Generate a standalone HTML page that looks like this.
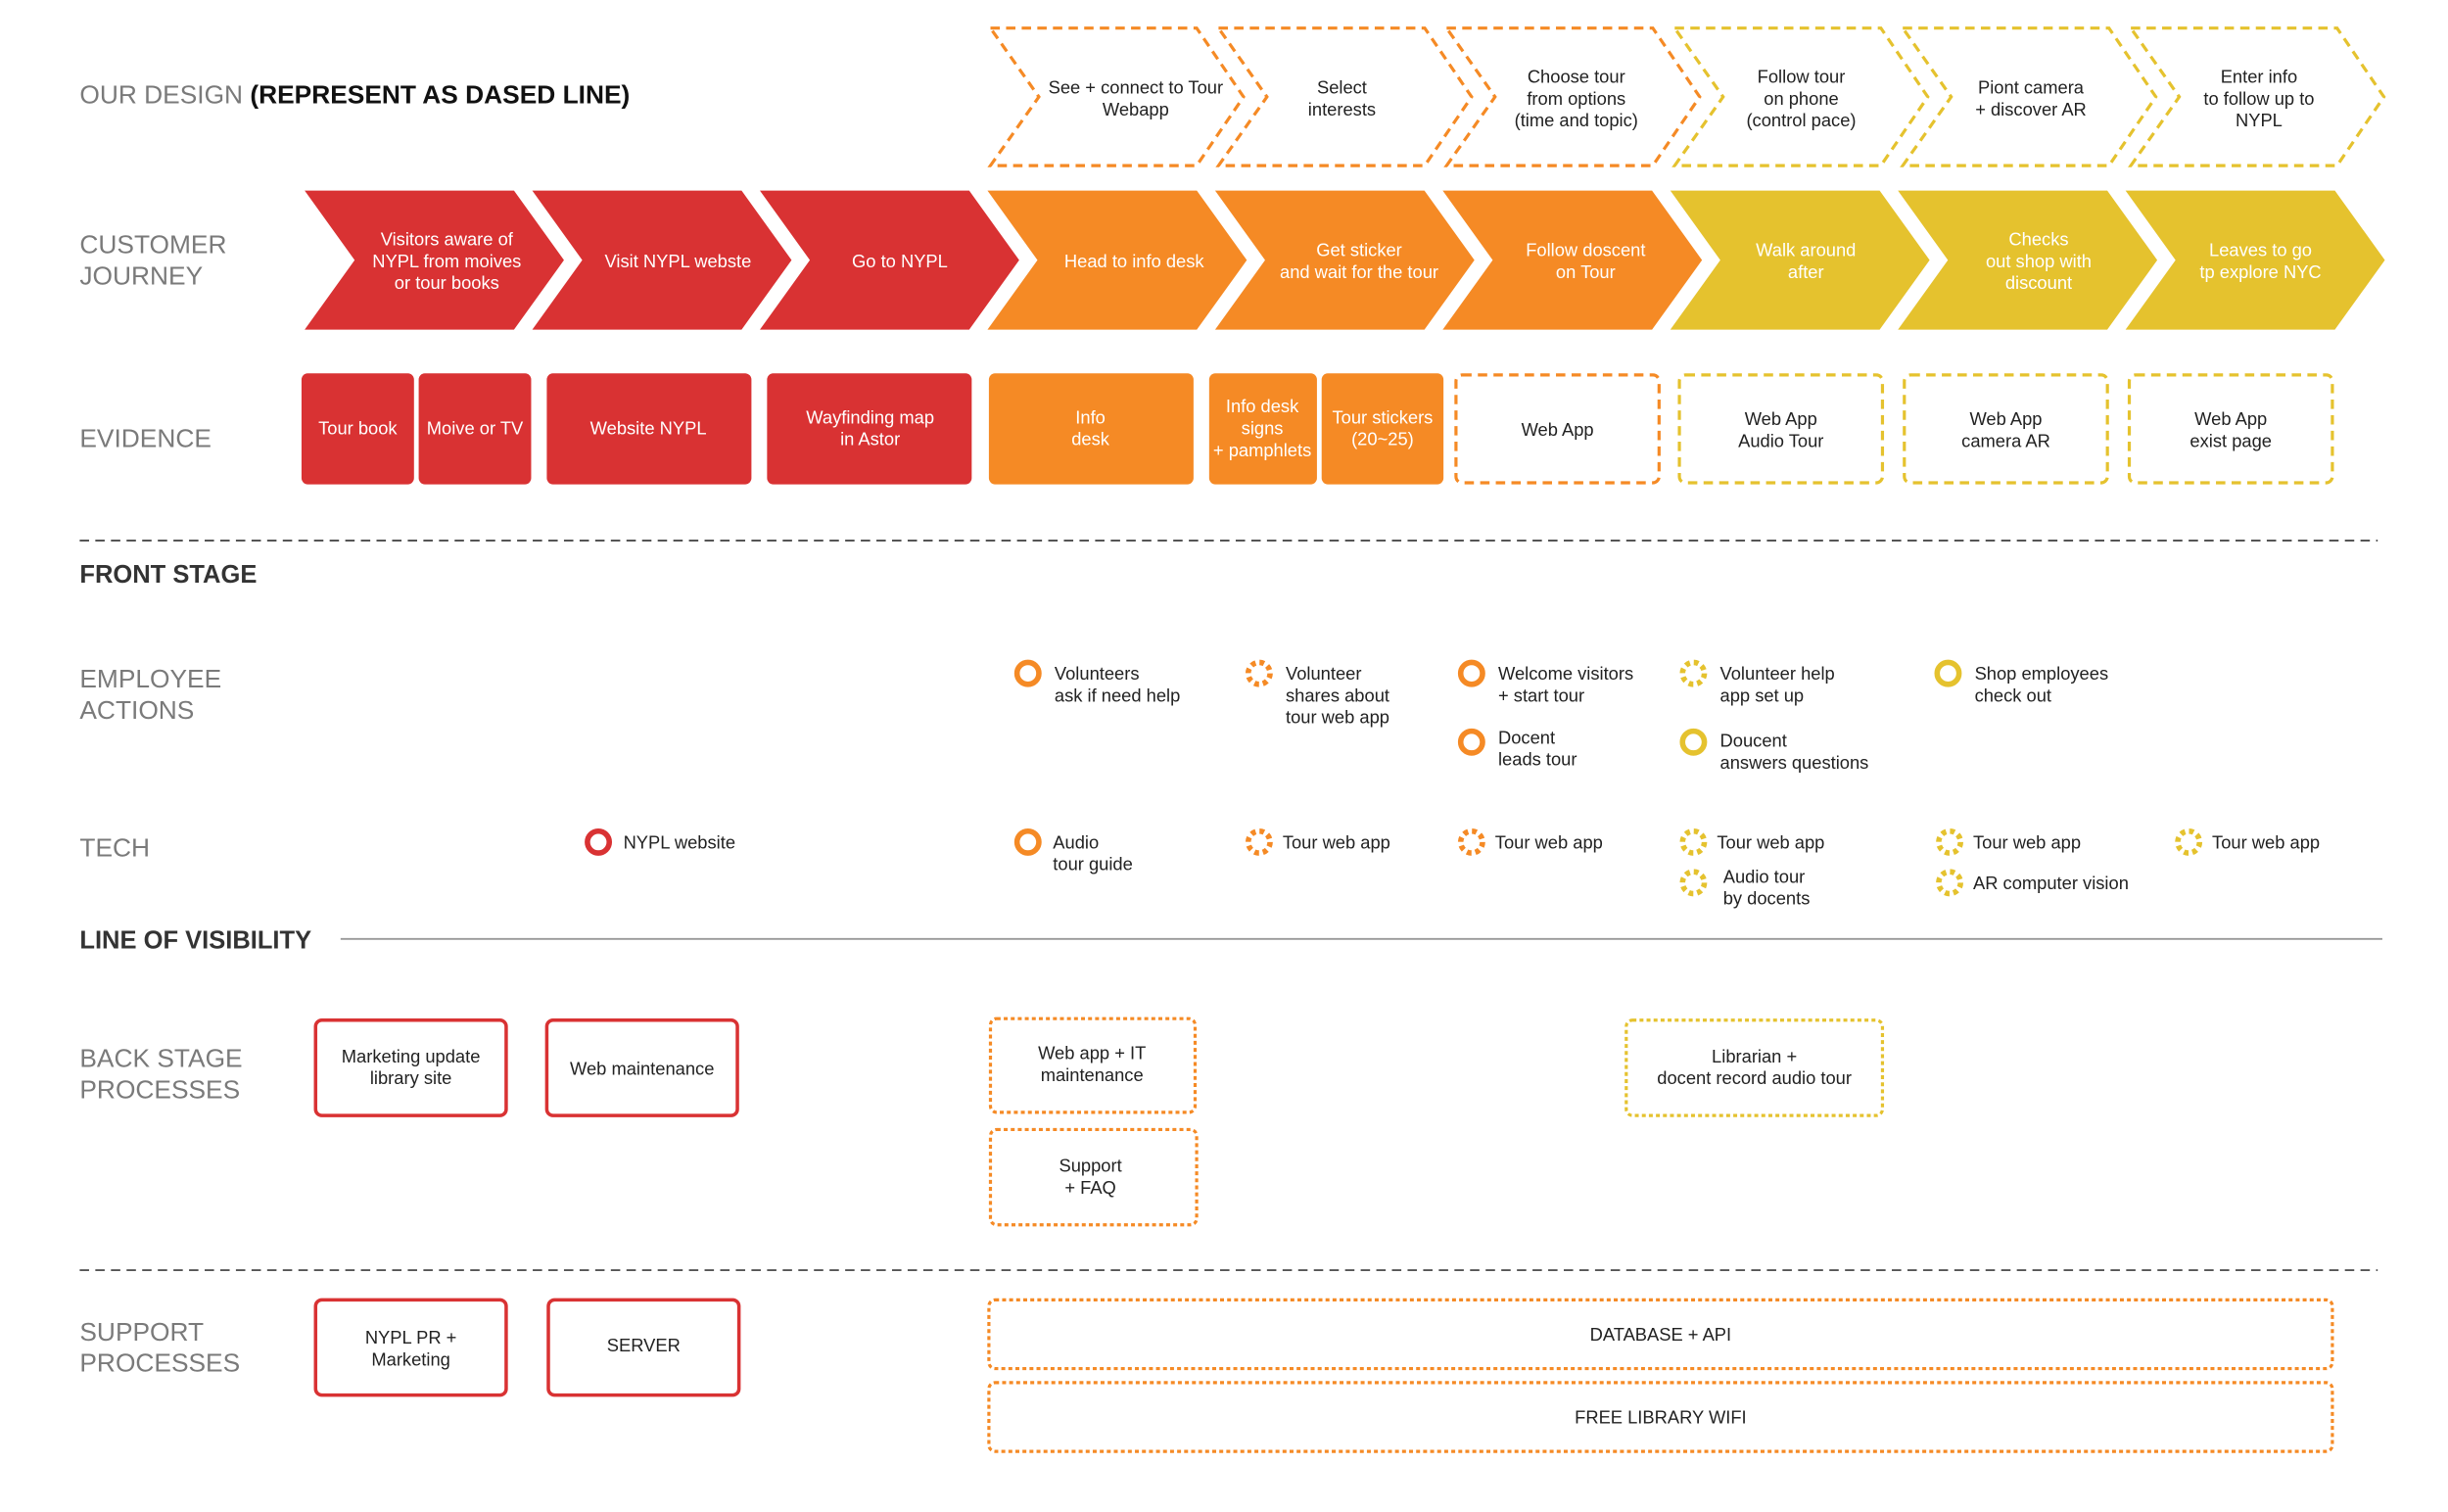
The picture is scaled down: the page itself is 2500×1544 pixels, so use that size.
<!DOCTYPE html>
<html><head><meta charset="utf-8"><style>
html,body{margin:0;padding:0;background:#fff;}
svg{display:block;}
text{font-family:"Liberation Sans Narrow","Liberation Sans",sans-serif;}
.lbl{fill:#7a7a7a;font-size:16.5px;}
.w{fill:#fff;font-size:11.5px;text-anchor:middle;}
.d{fill:#222;font-size:11.5px;text-anchor:middle;}
.s{fill:#222;font-size:11.5px;}
</style></head><body>
<svg width="2500" height="1544" viewBox="0 0 1567 967.8" xmlns="http://www.w3.org/2000/svg">
<rect width="1567" height="967.8" fill="#fff"/>
<text x="51" y="66" class="lbl">OUR DESIGN <tspan fill="#111" font-weight="bold">(REPRESENT AS DASED LINE)</tspan></text>
<text x="51" y="162" class="lbl">CUSTOMER</text><text x="51" y="182" class="lbl">JOURNEY</text>
<text x="51" y="286" class="lbl">EVIDENCE</text>
<text x="51" y="373" style="fill:#333;font-size:16px;font-weight:bold">FRONT STAGE</text>
<text x="51" y="440" class="lbl">EMPLOYEE</text><text x="51" y="460" class="lbl">ACTIONS</text>
<text x="51" y="548" class="lbl">TECH</text>
<text x="51" y="607" style="fill:#333;font-size:16px;font-weight:bold">LINE OF VISIBILITY</text>
<text x="51" y="683" class="lbl">BACK STAGE</text><text x="51" y="703" class="lbl">PROCESSES</text>
<text x="51" y="858" class="lbl">SUPPORT</text><text x="51" y="878" class="lbl">PROCESSES</text>

<line x1="51" y1="346" x2="1522" y2="346" stroke="#555" stroke-width="1.2" stroke-dasharray="6 4"/>
<line x1="218" y1="601" x2="1525" y2="601" stroke="#999" stroke-width="1.2"/>
<line x1="51" y1="813" x2="1522" y2="813" stroke="#555" stroke-width="1.2" stroke-dasharray="6 4"/>

<g fill="none" stroke-width="2" stroke-dasharray="6 4">
<path d="M634,18 L766,18 L796,62 L766,106 L634,106 L665,62 Z" stroke="#F58A25"/>
<path d="M780,18 L912,18 L942,62 L912,106 L780,106 L811,62 Z" stroke="#F58A25"/>
<path d="M926,18 L1058,18 L1088,62 L1058,106 L926,106 L957,62 Z" stroke="#F58A25"/>
<path d="M1072,18 L1204,18 L1234,62 L1204,106 L1072,106 L1103,62 Z" stroke="#E5C22E"/>
<path d="M1218,18 L1350,18 L1380,62 L1350,106 L1218,106 L1249,62 Z" stroke="#E5C22E"/>
<path d="M1364,18 L1496,18 L1526,62 L1496,106 L1364,106 L1395,62 Z" stroke="#E5C22E"/>
</g>
<text class="d" x="727" y="60">See + connect to Tour</text><text class="d" x="727" y="74">Webapp</text>
<text class="d" x="859" y="60">Select</text><text class="d" x="859" y="74">interests</text>
<text class="d" x="1009" y="53">Choose tour</text><text class="d" x="1009" y="67">from options</text><text class="d" x="1009" y="81">(time and topic)</text>
<text class="d" x="1153" y="53">Follow tour</text><text class="d" x="1153" y="67">on phone</text><text class="d" x="1153" y="81">(control pace)</text>
<text class="d" x="1300" y="60">Piont camera</text><text class="d" x="1300" y="74">+ discover AR</text>
<text class="d" x="1446" y="53">Enter info</text><text class="d" x="1446" y="67">to follow up to</text><text class="d" x="1446" y="81">NYPL</text>

<path d="M195,122 L329,122 L361,166.5 L329,211 L195,211 L227,166.5 Z" fill="#D93233"/>
<path d="M340.7,122 L474.7,122 L506.7,166.5 L474.7,211 L340.7,211 L372.7,166.5 Z" fill="#D93233"/>
<path d="M486.4,122 L620.4,122 L652.4,166.5 L620.4,211 L486.4,211 L518.4,166.5 Z" fill="#D93233"/>
<path d="M632.1,122 L766.1,122 L798.1,166.5 L766.1,211 L632.1,211 L664.1,166.5 Z" fill="#F58A25"/>
<path d="M777.8,122 L911.8,122 L943.8,166.5 L911.8,211 L777.8,211 L809.8,166.5 Z" fill="#F58A25"/>
<path d="M923.5,122 L1057.5,122 L1089.5,166.5 L1057.5,211 L923.5,211 L955.5,166.5 Z" fill="#F58A25"/>
<path d="M1069.2,122 L1203.2,122 L1235.2,166.5 L1203.2,211 L1069.2,211 L1101.2,166.5 Z" fill="#E5C22E"/>
<path d="M1214.9,122 L1348.9,122 L1380.9,166.5 L1348.9,211 L1214.9,211 L1246.9,166.5 Z" fill="#E5C22E"/>
<path d="M1360.6,122 L1494.6,122 L1526.6,166.5 L1494.6,211 L1360.6,211 L1392.6,166.5 Z" fill="#E5C22E"/>
<text class="w" x="286" y="157">Visitors aware of</text><text class="w" x="286" y="171">NYPL from moives</text><text class="w" x="286" y="185">or tour books</text>
<text class="w" x="434" y="171">Visit NYPL webste</text>
<text class="w" x="576" y="171">Go to NYPL</text>
<text class="w" x="726" y="171">Head to info desk</text>
<text class="w" x="870" y="164">Get sticker</text><text class="w" x="870" y="178">and wait for the tour</text>
<text class="w" x="1015" y="164">Follow doscent</text><text class="w" x="1015" y="178">on Tour</text>
<text class="w" x="1156" y="164">Walk around</text><text class="w" x="1156" y="178">after</text>
<text class="w" x="1305" y="157">Checks</text><text class="w" x="1305" y="171">out shop with</text><text class="w" x="1305" y="185">discount</text>
<text class="w" x="1447" y="164">Leaves to go</text><text class="w" x="1447" y="178">tp explore NYC</text>

<rect x="193" y="239" width="72" height="71" rx="4" fill="#D93233"/>
<rect x="268" y="239" width="72" height="71" rx="4" fill="#D93233"/>
<rect x="350" y="239" width="131" height="71" rx="4" fill="#D93233"/>
<rect x="491" y="239" width="131" height="71" rx="4" fill="#D93233"/>
<rect x="633" y="239" width="131" height="71" rx="4" fill="#F58A25"/>
<rect x="774" y="239" width="69" height="71" rx="4" fill="#F58A25"/>
<rect x="846" y="239" width="78" height="71" rx="4" fill="#F58A25"/>
<g fill="none" stroke-width="2" stroke-dasharray="6 4">
<rect x="932" y="240" width="130" height="69" rx="4" stroke="#F58A25"/>
<rect x="1075" y="240" width="130" height="69" rx="4" stroke="#E5C22E"/>
<rect x="1219" y="240" width="130" height="69" rx="4" stroke="#E5C22E"/>
<rect x="1363" y="240" width="130" height="69" rx="4" stroke="#E5C22E"/>
</g>
<text class="w" x="229" y="278">Tour book</text>
<text class="w" x="304" y="278">Moive or TV</text>
<text class="w" x="415" y="278">Website NYPL</text>
<text class="w" x="557" y="271">Wayfinding map</text><text class="w" x="557" y="285">in Astor</text>
<text class="w" x="698" y="271">Info</text><text class="w" x="698" y="285">desk</text>
<text class="w" x="808" y="264">Info desk</text><text class="w" x="808" y="278">signs</text><text class="w" x="808" y="292">+ pamphlets</text>
<text class="w" x="885" y="271">Tour stickers</text><text class="w" x="885" y="285">(20~25)</text>
<text class="d" x="997" y="279">Web App</text>
<text class="d" x="1140" y="272">Web App</text><text class="d" x="1140" y="286">Audio Tour</text>
<text class="d" x="1284" y="272">Web App</text><text class="d" x="1284" y="286">camera AR</text>
<text class="d" x="1428" y="272">Web App</text><text class="d" x="1428" y="286">exist page</text>

<g fill="none" stroke-width="3.5">
<circle cx="658" cy="431" r="7" stroke="#F58A25"/>
<circle cx="806" cy="431" r="7" stroke="#F58A25" stroke-dasharray="3 2.5"/>
<circle cx="942" cy="431" r="7" stroke="#F58A25"/>
<circle cx="942" cy="475" r="7" stroke="#F58A25"/>
<circle cx="1084" cy="431" r="7" stroke="#E5C22E" stroke-dasharray="3 2.5"/>
<circle cx="1084" cy="475" r="7" stroke="#E5C22E"/>
<circle cx="1247" cy="431" r="7" stroke="#E5C22E"/>
<circle cx="383" cy="539" r="7" stroke="#D93233"/>
<circle cx="658" cy="539" r="7" stroke="#F58A25"/>
<circle cx="806" cy="539" r="7" stroke="#F58A25" stroke-dasharray="3 2.5"/>
<circle cx="942" cy="539" r="7" stroke="#F58A25" stroke-dasharray="3 2.5"/>
<circle cx="1084" cy="539" r="7" stroke="#E5C22E" stroke-dasharray="3 2.5"/>
<circle cx="1084" cy="565" r="7" stroke="#E5C22E" stroke-dasharray="3 2.5"/>
<circle cx="1248" cy="539" r="7" stroke="#E5C22E" stroke-dasharray="3 2.5"/>
<circle cx="1248" cy="565" r="7" stroke="#E5C22E" stroke-dasharray="3 2.5"/>
<circle cx="1401" cy="539" r="7" stroke="#E5C22E" stroke-dasharray="3 2.5"/>
</g>
<text class="s" x="675" y="435">Volunteers</text><text class="s" x="675" y="449">ask if need help</text>
<text class="s" x="823" y="435">Volunteer</text><text class="s" x="823" y="449">shares about</text><text class="s" x="823" y="463">tour web app</text>
<text class="s" x="959" y="435">Welcome visitors</text><text class="s" x="959" y="449">+ start tour</text>
<text class="s" x="959" y="476">Docent</text><text class="s" x="959" y="490">leads tour</text>
<text class="s" x="1101" y="435">Volunteer help</text><text class="s" x="1101" y="449">app set up</text>
<text class="s" x="1101" y="478">Doucent</text><text class="s" x="1101" y="492">answers questions</text>
<text class="s" x="1264" y="435">Shop employees</text><text class="s" x="1264" y="449">check out</text>
<text class="s" x="399" y="543">NYPL website</text>
<text class="s" x="674" y="543">Audio</text><text class="s" x="674" y="557">tour guide</text>
<text class="s" x="821" y="543">Tour web app</text>
<text class="s" x="957" y="543">Tour web app</text>
<text class="s" x="1099" y="543">Tour web app</text>
<text class="s" x="1103" y="565">Audio tour</text><text class="s" x="1103" y="579">by docents</text>
<text class="s" x="1263" y="543">Tour web app</text>
<text class="s" x="1263" y="569">AR computer vision</text>
<text class="s" x="1416" y="543">Tour web app</text>

<g fill="none" stroke-width="2.2">
<rect x="202" y="653" width="122" height="61" rx="4" stroke="#D93233"/>
<rect x="350" y="653" width="122" height="61" rx="4" stroke="#D93233"/>
<rect x="202" y="832" width="122" height="61" rx="4" stroke="#D93233"/>
<rect x="351" y="832" width="122" height="61" rx="4" stroke="#D93233"/>
</g>
<g fill="none" stroke-width="2" stroke-dasharray="2.5 2">
<rect x="634" y="652" width="131" height="60" rx="4" stroke="#F58A25"/>
<rect x="634" y="723" width="132" height="61" rx="4" stroke="#F58A25"/>
<rect x="1041" y="653" width="164" height="61" rx="4" stroke="#E5C22E"/>
<rect x="633" y="832" width="860" height="44" rx="4" stroke="#F58A25"/>
<rect x="633" y="885" width="860" height="44" rx="4" stroke="#F58A25"/>
</g>
<text class="d" x="263" y="680">Marketing update</text><text class="d" x="263" y="694">library site</text>
<text class="d" x="411" y="688">Web maintenance</text>
<text class="d" x="699" y="678">Web app + IT</text><text class="d" x="699" y="692">maintenance</text>
<text class="d" x="698" y="750">Support</text><text class="d" x="698" y="764">+ FAQ</text>
<text class="d" x="1123" y="680">Librarian +</text><text class="d" x="1123" y="694">docent record audio tour</text>
<text class="d" x="263" y="860">NYPL PR +</text><text class="d" x="263" y="874">Marketing</text>
<text class="d" x="412" y="865">SERVER</text>
<text class="d" x="1063" y="858">DATABASE + API</text>
<text class="d" x="1063" y="911">FREE LIBRARY WIFI</text>
</svg>
</body></html>
